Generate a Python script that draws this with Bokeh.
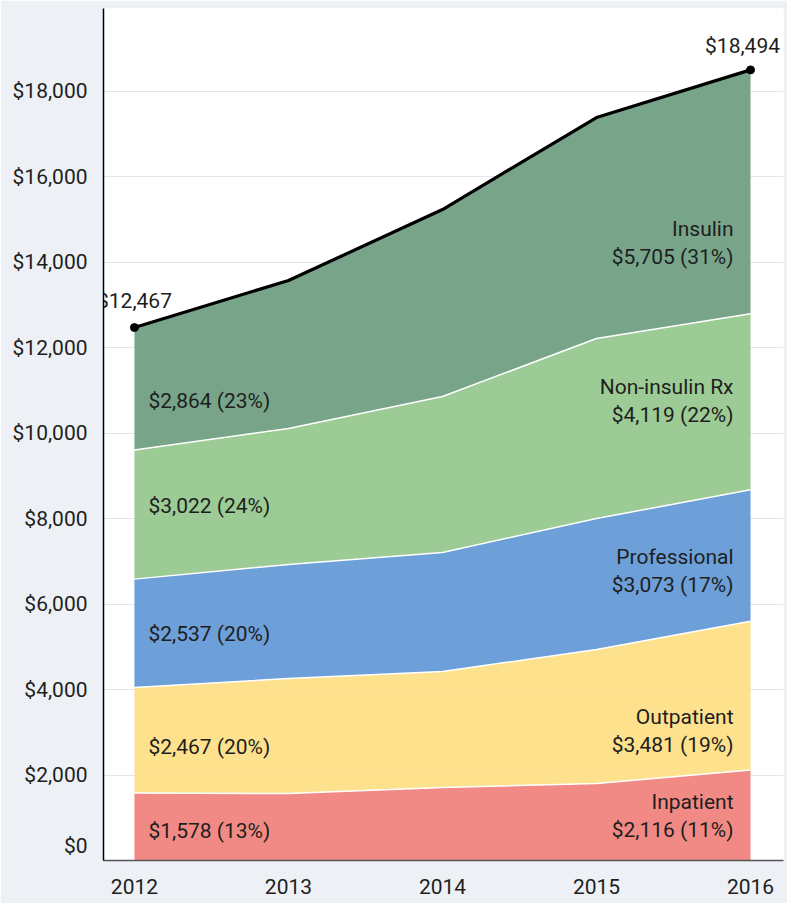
from bokeh.plotting import figure
from bokeh.models import ColumnDataSource, FixedTicker, NumeralTickFormatter
from bokeh.core.properties import value
from bokeh.embed import file_html
from bokeh.resources import INLINE

# ---- data ----
years = [2012, 2013, 2014, 2015, 2016]
inpatient = [1578, 1567, 1708, 1801, 2116]
outpatient = [2467, 2690, 2713, 3135, 3481]
professional = [2537, 2667, 2784, 3064, 3073]
non_insulin_rx = [3022, 3181, 3649, 4211, 4119]
insulin = [2864, 3462, 4374, 5169, 5705]
totals = [12467, 13567, 15228, 17380, 18494]
series_names = ["Inpatient", "Outpatient", "Professional", "Non-insulin Rx", "Insulin"]
y_ticks = [0, 2000, 4000, 6000, 8000, 10000, 12000, 14000, 16000, 18000]

# ---- styling ----
colors = ["#f0857f", "#fee088", "#679bd6", "#99c991", "#72a185"]
FONT = "Roboto"
FS = "21px"
TXT = "#1e1e1e"
BG = "#edf1f5"
left_dy = [4, 7, 1, -9, 12]
right_dy = [1, 35, 15, -1, 51]

series = [inpatient, outpatient, professional, non_insulin_rx, insulin]
keys = ["s%d" % i for i in range(len(series))]
data = {"year": years}
for k, s in zip(keys, series):
    data[k] = s
src = ColumnDataSource(data)

p = figure(width=787, height=903, x_range=(2011.799, 2016.214), y_range=(0, 19930),
           output_backend="svg", toolbar_location=None,
           min_border_left=103, min_border_right=4, min_border_top=8, min_border_bottom=43,
           background_fill_color="white", border_fill_color=BG, outline_line_color=None)

p.varea_stack(stackers=keys, x="year", color=colors, fill_alpha=0.96, source=src)

# cumulative boundaries
cum_bottom = [[0] * len(years)]
for s in series:
    prev = cum_bottom[-1]
    cum_bottom.append([a + b for a, b in zip(prev, s)])
for i in range(1, len(series)):
    p.line(years, cum_bottom[i], line_color="white", line_width=1.5)

p.line(years, totals, line_color="black", line_width=3.2)
p.scatter([years[0], years[-1]], [totals[0], totals[-1]], size=8, color="black")

# ---- labels ----
def money(v):
    return "${:,}".format(v)

n0, n1 = 0, len(years) - 1
t0 = sum(s[n0] for s in series)
t1 = sum(s[n1] for s in series)

lx, ly, ltext, loff = [], [], [], []
for i, s in enumerate(series):
    mid = (cum_bottom[i][n0] + cum_bottom[i + 1][n0]) / 2
    lx.append(years[n0]); ly.append(mid)
    ltext.append("%s (%d%%)" % (money(s[n0]), round(100 * s[n0] / t0)))
    loff.append(left_dy[i])
p.text(x=lx, y=ly, text=ltext, x_offset=14, y_offset=loff, text_align="left",
       text_baseline="middle", text_font=value(FONT), text_font_size=FS, text_color=TXT)

rx, ry, rtext, roff = [], [], [], []
for i, s in enumerate(series):
    mid = (cum_bottom[i][n1] + cum_bottom[i + 1][n1]) / 2
    rx += [years[n1], years[n1]]; ry += [mid, mid]
    rtext += [series_names[i], "%s (%d%%)" % (money(s[n1]), round(100 * s[n1] / t1))]
    roff += [right_dy[i] - 14, right_dy[i] + 14]
p.text(x=rx, y=ry, text=rtext, x_offset=-17, y_offset=roff, text_align="right",
       text_baseline="middle", text_font=value(FONT), text_font_size=FS, text_color=TXT)

p.text(x=[years[n0], years[n1]], y=[totals[n0], totals[n1]],
       text=[money(totals[n0]), money(totals[n1])], x_offset=[0, -8], y_offset=[-27, -24],
       text_align="center", text_baseline="middle", text_font=value(FONT),
       text_font_size=FS, text_color=TXT)

# ---- axes ----
p.xaxis.ticker = FixedTicker(ticks=years)
p.yaxis.ticker = FixedTicker(ticks=y_ticks)
p.yaxis.formatter = NumeralTickFormatter(format="$0,0")
p.yaxis.major_label_overrides = {0: money(y_ticks[0]) + "\n "}
for ax in (p.xaxis, p.yaxis):
    ax.major_tick_line_color = None
    ax.minor_tick_line_color = None
    ax.major_label_text_font = FONT
    ax.major_label_text_font_size = FS
    ax.major_label_text_color = TXT
p.xaxis.major_label_standoff = 12
p.yaxis.major_label_standoff = 10
p.yaxis.axis_line_color = "black"
p.yaxis.axis_line_width = 1.5
p.xaxis.axis_line_color = "#555555"
p.xaxis.axis_line_width = 1.5
p.xgrid.grid_line_color = None
p.ygrid.grid_line_color = "#e2e6ea"

html = file_html(p, INLINE)
html = html.replace("<body>", '<body style="background-color:%s;">' % BG, 1)
open("out.html", "w").write(html)
